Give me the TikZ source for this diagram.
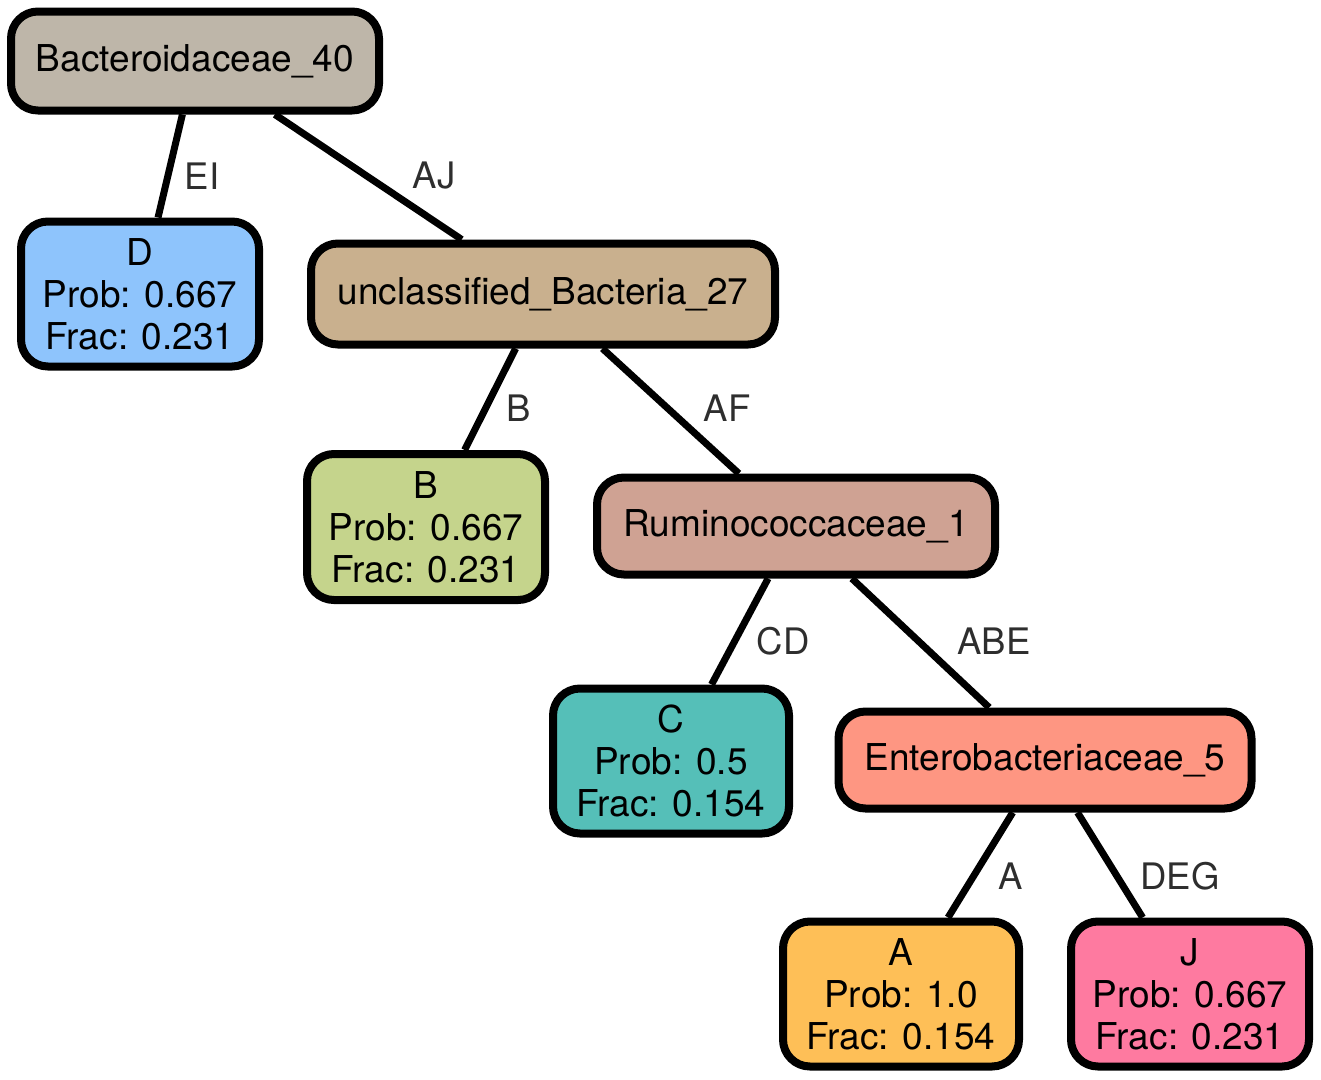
\documentclass[tikz,border=0pt]{standalone}
\usepackage{fontspec}
\setmainfont{TeX Gyre Heros}
\begin{document}
\begin{tikzpicture}[x=1pt,y=-1pt,
  box/.style={draw=black,line width=8pt,rounded corners=27pt,inner sep=0pt,align=center,
    font=\fontsize{37}{42}\selectfont},
  edge/.style={line width=7pt,draw=black},
  elab/.style={font=\fontsize{36.5}{40}\selectfont,text=black!82}]
\useasboundingbox (0,0) rectangle (1321,1079);
\definecolor{cBac}{HTML}{BEB6A9}
\definecolor{cD}{HTML}{8EC4FC}
\definecolor{cUnc}{HTML}{C9B08E}
\definecolor{cB}{HTML}{C5D48C}
\definecolor{cRum}{HTML}{CFA293}
\definecolor{cC}{HTML}{55BFB8}
\definecolor{cEnt}{HTML}{FE9682}
\definecolor{cA}{HTML}{FEBF57}
\definecolor{cJ}{HTML}{FE7AA0}
\node[box,fill=cBac,minimum width=368pt,minimum height=99pt] (bac) at (195,61) {Bacteroidaceae\_40};
\node[box,fill=cD,minimum width=238pt,minimum height=145pt] (d) at (140,294) {D\\Prob: 0.667\\Frac: 0.231};
\node[box,fill=cUnc,minimum width=464pt,minimum height=101pt] (unc) at (543,294) {unclassified\_Bacteria\_27};
\node[box,fill=cB,minimum width=238pt,minimum height=146pt] (b) at (426,527) {B\\Prob: 0.667\\Frac: 0.231};
\node[box,fill=cRum,minimum width=398pt,minimum height=97pt] (rum) at (796,526) {Ruminococcaceae\_1};
\node[box,fill=cC,minimum width=236pt,minimum height=145pt] (c) at (671,761) {C\\Prob: 0.5\\Frac: 0.154};
\node[box,fill=cEnt,minimum width=413pt,minimum height=97pt] (ent) at (1045,760) {Enterobacteriaceae\_5};
\node[box,fill=cA,minimum width=236pt,minimum height=145pt] (a) at (901,994) {A\\Prob: 1.0\\Frac: 0.154};
\node[box,fill=cJ,minimum width=238pt,minimum height=145pt] (j) at (1190,994) {J\\Prob: 0.667\\Frac: 0.231};
\draw[edge] (bac) -- (d);
\draw[edge] (bac) -- (unc);
\draw[edge] (unc) -- (b);
\draw[edge] (unc) -- (rum);
\draw[edge] (rum) -- (c);
\draw[edge] (rum) -- (ent);
\draw[edge] (ent) -- (a);
\draw[edge] (ent) -- (j);
\node[elab] (lEI) at (202,176) {EI};
\node[elab] (lAJ) at (434,176) {AJ};
\node[elab] (lB) at (519,408) {B};
\node[elab] (lAF) at (727,408) {AF};
\node[elab] (lCD) at (783,641) {CD};
\node[elab] (lABE) at (994,641) {ABE};
\node[elab] (lA) at (1011,876) {A};
\node[elab] (lDEG) at (1180,876) {DEG};
\end{tikzpicture}
\end{document}
